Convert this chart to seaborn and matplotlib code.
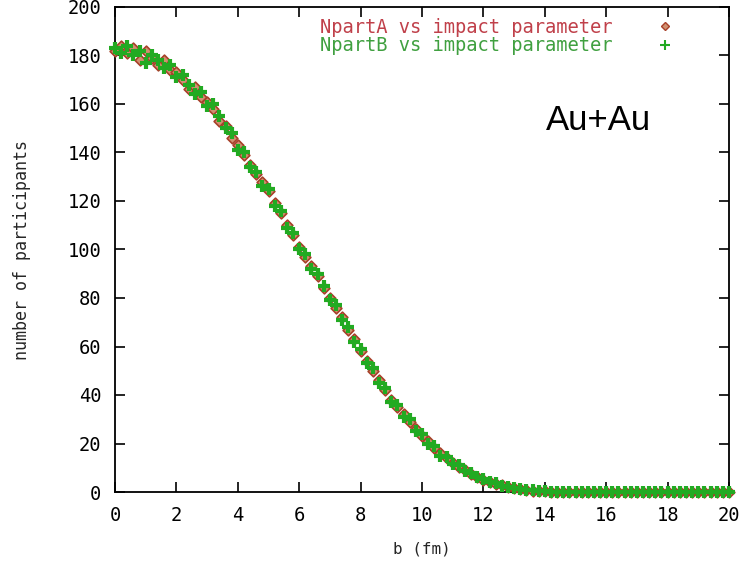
import numpy as np
import pandas as pd
import matplotlib
matplotlib.use("Agg")
import matplotlib.pyplot as plt
import seaborn as sns
from matplotlib.lines import Line2D

b_fm = [0.0, 0.2, 0.4, 0.6, 0.8, 1.0, 1.2, 1.4, 1.6, 1.8,
        2.0, 2.2, 2.4, 2.6, 2.8, 3.0, 3.2, 3.4, 3.6, 3.8,
        4.0, 4.2, 4.4, 4.6, 4.8, 5.0, 5.2, 5.4, 5.6, 5.8,
        6.0, 6.2, 6.4, 6.6, 6.8, 7.0, 7.2, 7.4, 7.6, 7.8,
        8.0, 8.2, 8.4, 8.6, 8.8, 9.0, 9.2, 9.4, 9.6, 9.8,
        10.0, 10.2, 10.4, 10.6, 10.8, 11.0, 11.2, 11.4, 11.6, 11.8,
        12.0, 12.2, 12.4, 12.6, 12.8, 13.0, 13.2, 13.4, 13.6, 13.8,
        14.0, 14.2, 14.4, 14.6, 14.8, 15.0, 15.2, 15.4, 15.6, 15.8,
        16.0, 16.2, 16.4, 16.6, 16.8, 17.0, 17.2, 17.4, 17.6, 17.8,
        18.0, 18.2, 18.4, 18.6, 18.8, 19.0, 19.2, 19.4, 19.6, 19.8,
        20.0]

npartA = [182, 184, 181, 183, 178, 182, 179, 176, 178, 174,
          173, 170, 166, 167, 163, 161, 158, 153, 151, 146,
          143, 139, 135, 131, 128, 124, 119, 115, 110, 106,
          101, 97, 93, 89, 84, 80, 76, 72, 67, 63,
          58, 54, 50, 46, 42, 38, 35, 32, 29, 26,
          23, 21, 18, 16, 14, 12, 10.5, 9, 7.5, 6.2,
          5, 4.2, 3.4, 2.7, 2.1, 1.6, 1.2, 0.9, 0.6, 0.4,
          0.3, 0.2, 0.1, 0.1, 0, 0, 0, 0, 0, 0,
          0, 0, 0, 0, 0, 0, 0, 0, 0, 0,
          0, 0, 0, 0, 0, 0, 0, 0, 0, 0,
          0]

npartB = [183, 181, 184, 180, 182, 177, 180, 178, 175, 176,
          171, 172, 168, 164, 165, 159, 160, 155, 150, 148,
          141, 140, 134, 132, 126, 125, 118, 116, 109, 107,
          100, 98, 92, 90, 85, 79, 77, 71, 68, 62,
          59, 53, 51, 45, 43, 37, 36, 31, 30, 25,
          24, 20, 19, 15, 14.5, 11.5, 11, 8.5, 8, 6,
          5.2, 4, 3.6, 2.5, 2.2, 1.5, 1.3, 0.8, 0.7, 0.4,
          0.3, 0.2, 0.1, 0.1, 0, 0, 0, 0, 0, 0,
          0, 0, 0, 0, 0, 0, 0, 0, 0, 0,
          0, 0, 0, 0, 0, 0, 0, 0, 0, 0,
          0]

xticks = [0, 2, 4, 6, 8, 10, 12, 14, 16, 18, 20]
yticks = [0, 20, 40, 60, 80, 100, 120, 140, 160, 180, 200]
labelA = "NpartA vs impact parameter"
labelB = "NpartB vs impact parameter"

red = "#a8402a"
green = "#22aa22"
red_txt = "#c0404a"
green_txt = "#40a040"

sns.set_theme(style="ticks")
plt.rcParams['font.family'] = ['DejaVu Sans Mono', 'DejaVu Sans']

fig = plt.figure(figsize=(7.49, 5.63), dpi=100)
ax = fig.add_axes([115/749, 1 - 492/563, 614/749, 485/563])

dfA = pd.DataFrame({"b": b_fm, "N": npartA})
dfB = pd.DataFrame({"b": b_fm, "N": npartB})

sns.scatterplot(data=dfA, x="b", y="N", ax=ax, marker="D", s=30,
                facecolor="#d09070", edgecolor=red, linewidth=1.2,
                clip_on=False, zorder=3, legend=False)
sns.scatterplot(data=dfB, x="b", y="N", ax=ax, marker="+", s=85,
                color=green, linewidth=3.0, clip_on=False, zorder=4, legend=False)

ax.set_xlim(0, 20)
ax.set_ylim(0, 200)
ax.set_xticks(xticks)
ax.set_yticks(yticks)
ax.tick_params(direction="in", length=7, width=1.2, top=True, right=True,
               labelsize=13.5, colors="black", pad=10)
for sp in ax.spines.values():
    sp.set_visible(True)
    sp.set_linewidth(1.3)
    sp.set_color("black")
ax.set_xlabel("b (fm)", fontsize=11.5, labelpad=12)
ax.set_ylabel("number of participants", fontsize=12, labelpad=26)
ax.grid(False)

handles = [Line2D([], [], marker="D", linestyle="none", markersize=4,
                  markerfacecolor="#d09070", markeredgecolor=red),
           Line2D([], [], marker="+", linestyle="none", markersize=7,
                  markeredgewidth=1.5, color=green)]
leg = ax.legend(handles, [labelA, labelB], loc="upper right",
                bbox_to_anchor=((684 - 115) / 614, (492 - 18) / 485),
                markerfirst=False, frameon=False, fontsize=13.5,
                handlelength=2, handletextpad=1.8, borderpad=0,
                borderaxespad=0, labelspacing=-0.05)
for t, c in zip(leg.get_texts(), [red_txt, green_txt]):
    t.set_color(c)

ax.text((598 - 115) / 614, (492 - 121) / 485, "Au+Au", transform=ax.transAxes,
        ha="center", va="center", fontsize=25, family="Liberation Sans",
        color="black")

fig.savefig("out.png", dpi=100)
